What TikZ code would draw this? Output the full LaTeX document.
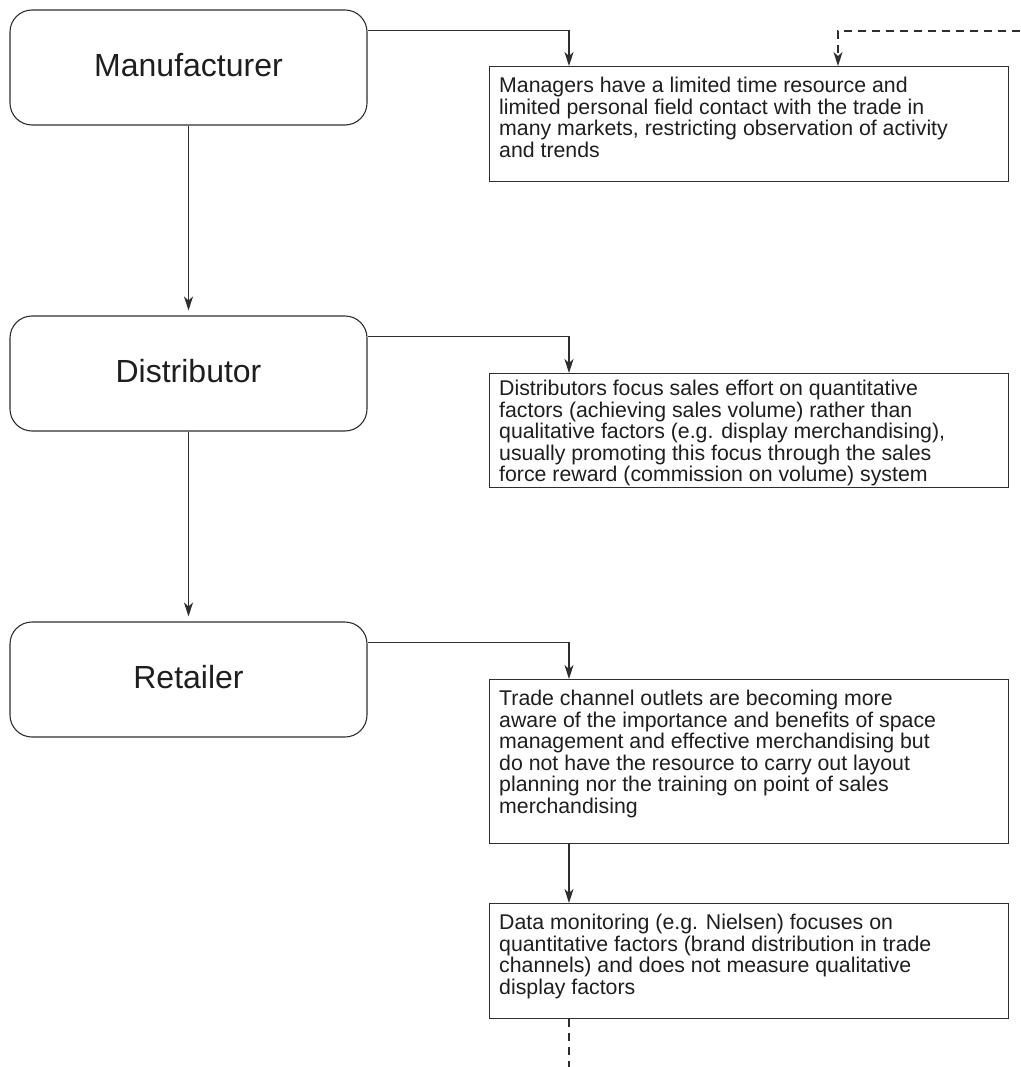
\documentclass[tikz,border=0pt]{standalone}
\usepackage{fontspec}
\setmainfont{Liberation Sans}
\usetikzlibrary{arrows.meta}
\definecolor{ink}{HTML}{2E2E2E}
\definecolor{txt}{HTML}{1E1E1E}
\begin{document}
\begin{tikzpicture}[x=1pt,y=-1pt,
  stage/.style={draw=ink,line width=1.1pt,rounded corners=22pt,minimum width=357pt,minimum height=115pt,inner sep=0pt,font=\fontsize{32}{36}\selectfont,text=txt},
  note/.style={draw=ink,line width=1.1pt,rectangle,minimum width=519pt,inner sep=0pt,anchor=north west},
  notetext/.style={anchor=north west,inner sep=0pt,align=left,text=txt,font=\fontsize{21.3}{21.5}\selectfont},
  tip/.style={-{Stealth[length=14pt,width=9pt,inset=4pt]}},
  arr/.style={draw=ink,line width=1.1pt,tip},
  dashline/.style={draw=ink,line width=1.1pt,dash pattern=on 8pt off 6pt}]
\useasboundingbox (0,0) rectangle (1020,1067);

% supply chain stages
\node[stage] (man) at (188.5,67.5) {\raisebox{6pt}{Manufacturer}};
\node[stage] (dist) at (188.5,373.5) {\raisebox{6pt}{Distributor}};
\node[stage] (ret) at (188.5,679.5) {\raisebox{6pt}{Retailer}};

% problem boxes
\node[note,minimum height=115pt] (t1) at (489,66) {};
\node[note,minimum height=114pt] (t2) at (489,373) {};
\node[note,minimum height=164pt] (t3) at (489,679) {};
\node[note,minimum height=115pt] (t4) at (489,903) {};

\node[notetext] (x1) at ([xshift=10pt,yshift=-11pt]t1.north west) {Managers have a limited time resource and\\limited personal field contact with the trade in\\many markets, restricting observation of activity\\and trends};
\node[notetext] (x2) at ([xshift=10pt,yshift=-7pt]t2.north west) {Distributors focus sales effort on quantitative\\factors (achieving sales volume) rather than\\qualitative factors (e.g. display merchandising),\\usually promoting this focus through the sales\\force reward (commission on volume) system};
\node[notetext] (x3) at ([xshift=10pt,yshift=-11pt]t3.north west) {Trade channel outlets are becoming more\\aware of the importance and benefits of space\\management and effective merchandising but\\do not have the resource to carry out layout\\planning nor the training on point of sales\\merchandising};
\node[notetext] (x4) at ([xshift=10pt,yshift=-11pt]t4.north west) {Data monitoring (e.g. Nielsen) focuses on\\quantitative factors (brand distribution in trade\\channels) and does not measure qualitative\\display factors};

% chain links
\draw[arr,shorten >=5pt] (man.south) -- (dist.north);
\draw[arr,shorten >=5pt] (dist.south) -- (ret.north);

% stage to problem links
\draw[arr] ([yshift=-21pt]man.north east) -| ([xshift=80pt]t1.north west);
\draw[arr] ([yshift=-21pt]dist.north east) -| ([xshift=80pt]t2.north west);
\draw[arr] ([yshift=-21pt]ret.north east) -| ([xshift=80pt]t3.north west);
\draw[arr] ([xshift=80pt]t3.south west) -- ([xshift=80pt]t4.north west);

% continuations off the page
\coordinate (intop) at (1020,31);
\coordinate (outbot) at (569,1067);
\draw[dashline,tip] (intop) -| ([xshift=349pt]t1.north west);
\draw[dashline] ([xshift=80pt]t4.south west) -- (outbot);
\end{tikzpicture}
\end{document}
